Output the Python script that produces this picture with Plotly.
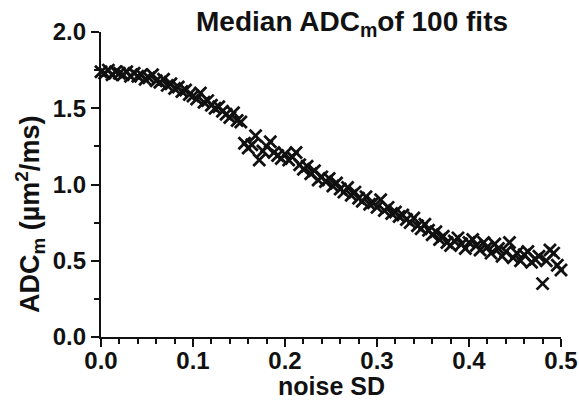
import plotly.graph_objects as go

# noise SD levels (0 to 0.5, step 0.004)
noise_sd = [round(i * 0.004, 3) for i in range(126)]

# median ADC_m of 100 fits at each noise level
median_adc = [
    1.74, 1.73, 1.75, 1.72, 1.74, 1.73, 1.72, 1.74, 1.71, 1.73,
    1.71, 1.72, 1.69, 1.70, 1.72, 1.68, 1.67, 1.69, 1.65, 1.66,
    1.63, 1.64, 1.61, 1.62, 1.59, 1.58, 1.56, 1.60, 1.54, 1.55,
    1.52, 1.50, 1.51, 1.48, 1.46, 1.44, 1.47, 1.42, 1.41, 1.27,
    1.24, 1.26, 1.32, 1.16, 1.22, 1.25, 1.28, 1.21, 1.19, 1.17,
    1.20, 1.16, 1.18, 1.21, 1.13, 1.10, 1.12, 1.07, 1.09, 1.03,
    1.05, 1.02, 1.04, 0.99, 1.01, 0.97, 0.95, 0.98, 0.93, 0.95,
    0.91, 0.89, 0.92, 0.87, 0.88, 0.85, 0.90, 0.83, 0.85, 0.81,
    0.82, 0.79, 0.80, 0.77, 0.75, 0.78, 0.73, 0.71, 0.74, 0.70,
    0.67, 0.69, 0.64, 0.66, 0.62, 0.60, 0.63, 0.65, 0.61, 0.58,
    0.62, 0.64, 0.60, 0.57, 0.62, 0.59, 0.55, 0.61, 0.58, 0.53,
    0.56, 0.62, 0.52, 0.55, 0.50, 0.54, 0.56, 0.49, 0.51, 0.53,
    0.35, 0.50, 0.57, 0.55, 0.47, 0.44,
]

x_ticks = [0.0, 0.1, 0.2, 0.3, 0.4, 0.5]
x_tick_labels = ["0.0", "0.1", "0.2", "0.3", "0.4", "0.5"]
y_ticks = [0.0, 0.5, 1.0, 1.5, 2.0]
y_tick_labels = ["0.0", "0.5", "1.0", "1.5", "2.0"]

FONT = "Arial, 'Liberation Sans', sans-serif"
INK = "#111111"

fig = go.Figure()
fig.add_trace(go.Scatter(
    x=noise_sd, y=median_adc, mode="markers", cliponaxis=False,
    marker=dict(symbol="x-thin", size=12, color=INK,
                line=dict(width=2.8, color=INK)),
    showlegend=False,
))

axis_common = dict(
    showline=True, linecolor=INK, linewidth=2.2, mirror=False,
    showgrid=False, zeroline=False, ticks="outside", ticklen=8,
    tickwidth=2.2, tickcolor=INK, automargin=False,
    tickfont=dict(family=FONT, size=24, color=INK, weight="bold"),
)

fig.update_layout(
    width=579, height=404,
    margin=dict(l=101, r=18, t=32, b=67),
    paper_bgcolor="white", plot_bgcolor="white",
    title=dict(text="Median ADC<sub>m</sub>of 100 fits",
               font=dict(family=FONT, size=28, color=INK, weight="bold"),
               x=0.608, xanchor="center", xref="container",
               y=1 - 21 / 404, yanchor="middle", yref="container",
               automargin=False),
    xaxis=dict(range=[0, 0.5], tickvals=x_ticks, ticktext=x_tick_labels,
               ticklabelstandoff=-7,
               minor=dict(dtick=0.02, ticks="outside", ticklen=5,
                          tickwidth=2, tickcolor=INK),
               **axis_common),
    yaxis=dict(range=[0, 2.0], tickvals=y_ticks, ticktext=y_tick_labels,
               minor=dict(dtick=0.25, ticks="outside", ticklen=5,
                          tickwidth=2, tickcolor=INK),
               **axis_common),
    annotations=[
        dict(text="noise SD", xref="paper", yref="paper",
             x=0.5, y=-(386 - 337) / 305, xanchor="center", yanchor="middle",
             showarrow=False,
             font=dict(family=FONT, size=25, color=INK, weight="bold")),
        dict(text="ADC<sub>m</sub> (µm<sup>2</sup>/ms)", textangle=-90,
             xref="paper", yref="paper", x=(30 - 101) / 460, y=0.40,
             xanchor="center", yanchor="middle", showarrow=False,
             font=dict(family=FONT, size=27, color=INK, weight="bold")),
    ],
)

fig.write_html("out.html")
